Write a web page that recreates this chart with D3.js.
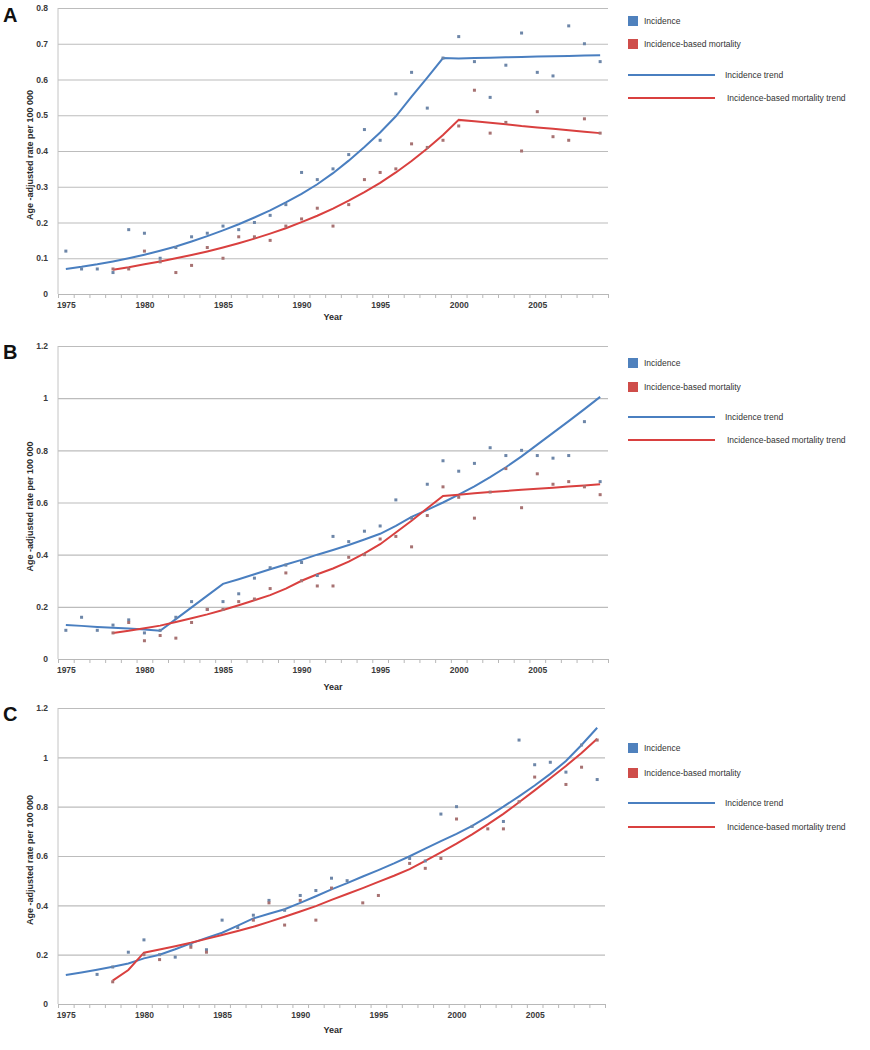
<!DOCTYPE html>
<html>
<head>
<meta charset="utf-8">
<script src="https://cdn.jsdelivr.net/npm/d3@7"></script>
<style>
  body { margin: 0; background: #fff; }
  svg { display: block; }
  text { font-family: "Liberation Sans", Arial, sans-serif; }
</style>
</head>
<body>
<svg id="chart" width="870" height="1050"></svg>
<script>
// ---------- DATA ----------
const years = [1975,1976,1977,1978,1979,1980,1981,1982,1983,1984,1985,1986,1987,1988,1989,1990,1991,1992,1993,1994,1995,1996,1997,1998,1999,2000,2001,2002,2003,2004,2005,2006,2007,2008,2009];
const xTickLabels = [1975,1980,1985,1990,1995,2000,2005];
const yTicksA = [0,0.1,0.2,0.3,0.4,0.5,0.6,0.7,0.8];
const yTicksBC = [0,0.2,0.4,0.6,0.8,1,1.2];
const legendLabels = ["Incidence","Incidence-based mortality","Incidence trend","Incidence-based mortality trend"];

// Panel A
const incidenceA = [0.12,0.07,0.07,0.06,0.18,0.17,0.10,0.13,0.16,0.17,0.19,0.18,0.20,0.22,0.25,0.34,0.32,0.35,0.39,0.46,0.43,0.56,0.62,0.52,0.66,0.72,0.65,0.55,0.64,0.73,0.62,0.61,0.75,0.70,0.65];
const mortalityA = [null,null,null,0.07,0.07,0.12,0.09,0.06,0.08,0.13,0.10,0.16,0.16,0.15,0.19,0.21,0.24,0.19,0.25,0.32,0.34,0.35,0.42,0.41,0.43,0.47,0.57,0.45,0.48,0.40,0.51,0.44,0.43,0.49,0.45];
const incidenceTrendA = [0.070,0.076,0.083,0.091,0.100,0.110,0.121,0.133,0.147,0.162,0.178,0.195,0.214,0.234,0.256,0.280,0.307,0.338,0.373,0.411,0.452,0.497,0.552,0.605,0.660,0.659,0.660,0.661,0.662,0.663,0.664,0.665,0.666,0.667,0.668];
const mortalityTrendA = [null,null,null,0.068,0.075,0.083,0.091,0.100,0.109,0.119,0.130,0.142,0.155,0.169,0.184,0.201,0.219,0.239,0.261,0.285,0.311,0.340,0.372,0.407,0.445,0.487,0.483,0.479,0.475,0.470,0.466,0.462,0.458,0.454,0.450];

// Panel B
const incidenceB = [0.11,0.16,0.11,0.13,0.15,0.10,0.11,0.16,0.22,0.19,0.22,0.25,0.31,0.35,0.36,0.37,0.32,0.47,0.45,0.49,0.51,0.61,0.54,0.67,0.76,0.72,0.75,0.81,0.78,0.80,0.78,0.77,0.78,0.91,0.68];
const mortalityB = [null,null,null,0.10,0.14,0.07,0.09,0.08,0.14,0.19,0.19,0.22,0.23,0.27,0.33,0.30,0.28,0.28,0.39,0.40,0.46,0.47,0.43,0.55,0.66,0.62,0.54,0.64,0.73,0.58,0.71,0.67,0.68,0.66,0.63];
const incidenceTrendB = [0.130,0.127,0.123,0.120,0.117,0.113,0.108,0.153,0.198,0.243,0.288,0.306,0.325,0.344,0.362,0.380,0.400,0.418,0.437,0.458,0.480,0.510,0.545,0.572,0.600,0.630,0.662,0.697,0.735,0.777,0.822,0.867,0.912,0.958,1.005];
const mortalityTrendB = [null,null,null,0.100,0.108,0.118,0.128,0.142,0.156,0.171,0.188,0.206,0.225,0.245,0.270,0.300,0.325,0.347,0.373,0.405,0.440,0.485,0.530,0.578,0.625,0.630,0.635,0.640,0.644,0.649,0.653,0.657,0.661,0.665,0.670];

// Panel C
const incidenceC = [null,null,0.12,0.15,0.21,0.26,0.20,0.19,0.24,0.22,0.34,0.31,0.36,0.42,0.38,0.44,0.46,0.51,0.50,null,null,null,0.59,0.58,0.77,0.80,0.72,null,0.74,1.07,0.97,0.98,0.94,1.05,0.91];
const mortalityC = [null,null,null,0.09,null,0.20,0.18,null,0.23,0.21,null,null,0.34,0.41,0.32,0.42,0.34,0.47,null,0.41,0.44,null,0.57,0.55,0.59,0.75,null,0.71,0.71,0.82,0.92,null,0.89,0.96,1.07];
const incidenceTrendC = [0.118,0.128,0.139,0.151,0.164,0.185,0.200,0.222,0.246,0.268,0.289,0.318,0.347,0.366,0.384,0.410,0.437,0.465,0.490,0.517,0.543,0.570,0.599,0.630,0.660,0.690,0.722,0.760,0.800,0.842,0.886,0.933,0.985,1.050,1.120];
const mortalityTrendC = [null,null,null,0.095,0.138,0.208,0.221,0.234,0.248,0.264,0.280,0.296,0.313,0.333,0.354,0.375,0.397,0.422,0.446,0.470,0.495,0.520,0.547,0.580,0.615,0.650,0.688,0.728,0.771,0.818,0.866,0.915,0.965,1.018,1.075];

// ---------- LAYOUT ----------
const panels = [
  { letter:"A", top:8,   bottom:294,  left:58, right:608, yMax:0.8, ticks:yTicksA,
    inc:incidenceA, mort:mortalityA, incT:incidenceTrendA, mortT:mortalityTrendA,
    legY:[21,44,75,98], yearY:320, labY:22 },
  { letter:"B", top:346, bottom:659,  left:58, right:608, yMax:1.2, ticks:yTicksBC,
    inc:incidenceB, mort:mortalityB, incT:incidenceTrendB, mortT:mortalityTrendB,
    legY:[363,387,417,440], yearY:690, labY:359 },
  { letter:"C", top:708, bottom:1004, left:58, right:605, yMax:1.2, ticks:yTicksBC,
    inc:incidenceC, mort:mortalityC, incT:incidenceTrendC, mortT:mortalityTrendC,
    legY:[748,773,803,827], yearY:1033, labY:721 }
];

const BLUE = "#4a7fc0", RED = "#d9403f";
const SQ_BLUE = "#4f81bd", SQ_RED = "#cf4d4a";
const PT_BLUE = "#6d86a8", PT_RED = "#a77272";

const svg = d3.select("#chart");

panels.forEach(p => {
  const g = svg.append("g");
  const x = d3.scaleLinear().domain([years[0] - 0.5, years[years.length-1] + 0.5]).range([p.left, p.right]);
  const y = d3.scaleLinear().domain([0, p.yMax]).range([p.bottom, p.top]);

  // gridlines
  g.append("g")
    .attr("transform", `translate(${p.left},0)`)
    .call(d3.axisLeft(y).tickValues(p.ticks.filter(t => t > 0)).tickSize(-(p.right - p.left)).tickFormat(""))
    .call(a => a.select(".domain").remove())
    .call(a => a.selectAll("line").attr("stroke", "#bcbcbc").attr("stroke-width", 1.1));

  // y tick labels
  g.append("g")
    .attr("transform", `translate(${p.left},0)`)
    .call(d3.axisLeft(y).tickValues(p.ticks).tickSize(0).tickPadding(10).tickFormat(d3.format("~g")))
    .call(a => a.select(".domain").remove())
    .call(a => a.selectAll("text").attr("font-size", "8.5px").attr("font-weight", "bold").attr("fill", "#3a3a3a")
      .attr("font-family", "'Liberation Sans', Arial, sans-serif"));

  // left axis line
  g.append("line").attr("x1", p.left).attr("x2", p.left).attr("y1", p.top).attr("y2", p.bottom)
    .attr("stroke", "#c4c4c4").attr("stroke-width", 1);

  // bottom axis with category-boundary ticks
  const bounds = years.map(d => d - 0.5).concat([years[years.length-1] + 0.5]);
  g.append("g")
    .attr("transform", `translate(0,${p.bottom})`)
    .call(d3.axisBottom(x).tickValues(bounds).tickSize(4).tickFormat(""))
    .call(a => a.select(".domain").attr("stroke", "#b8b8b8"))
    .call(a => a.selectAll("line").attr("stroke", "#b8b8b8"));

  g.append("g")
    .attr("transform", `translate(0,${p.bottom})`)
    .call(d3.axisBottom(x).tickValues(xTickLabels).tickSize(0).tickPadding(8).tickFormat(d3.format("d")))
    .call(a => a.select(".domain").remove())
    .call(a => a.selectAll("text").attr("font-size", "8.5px").attr("font-weight", "bold").attr("fill", "#3a3a3a")
      .attr("font-family", "'Liberation Sans', Arial, sans-serif"));

  // axis titles
  g.append("text").attr("x", 333).attr("y", p.yearY).attr("text-anchor", "middle")
    .attr("font-size", "9px").attr("font-weight", "bold").attr("fill", "#2a2a2a").text("Year");
  const midY = (p.top + p.bottom) / 2 + 4;
  g.append("text").attr("transform", `translate(33,${midY}) rotate(-90)`).attr("text-anchor", "middle")
    .attr("font-size", "9px").attr("font-weight", "bold").attr("fill", "#2a2a2a").text("Age -adjusted rate per 100 000");

  // panel letter
  g.append("text").attr("x", 3).attr("y", p.labY).attr("font-size", "20px").attr("font-weight", "bold")
    .attr("fill", "#111").text(p.letter);

  // trend lines
  const line = arr => d3.line()
    .defined((d, i) => arr[i] !== null)
    .x((d, i) => x(years[i]))
    .y((d, i) => y(arr[i]))(arr);
  g.append("path").attr("d", line(p.incT)).attr("fill", "none").attr("stroke", BLUE).attr("stroke-width", 2);
  g.append("path").attr("d", line(p.mortT)).attr("fill", "none").attr("stroke", RED).attr("stroke-width", 2);

  // points
  const pts = (arr, color) => g.append("g").selectAll("rect")
    .data(arr.map((v, i) => ({ yr: years[i], v })).filter(d => d.v !== null))
    .join("rect")
    .attr("x", d => x(d.yr) - 1.5).attr("y", d => y(d.v) - 1.5)
    .attr("width", 3).attr("height", 3).attr("fill", color);
  pts(p.inc, PT_BLUE);
  pts(p.mort, PT_RED);

  // legend
  const lg = g.append("g");
  [SQ_BLUE, SQ_RED].forEach((c, i) => {
    lg.append("rect").attr("x", 628).attr("y", p.legY[i] - 5).attr("width", 10).attr("height", 10).attr("fill", c);
    lg.append("text").attr("x", 644).attr("y", p.legY[i] + 3).attr("font-size", "8.5px").attr("fill", "#333").text(legendLabels[i]);
  });
  [BLUE, RED].forEach((c, i) => {
    const yy = p.legY[i + 2];
    lg.append("line").attr("x1", 628).attr("x2", 715).attr("y1", yy).attr("y2", yy).attr("stroke", c).attr("stroke-width", 2);
    lg.append("text").attr("x", i === 0 ? 725 : 727).attr("y", yy + 3).attr("font-size", "8.5px").attr("fill", "#333").text(legendLabels[i + 2]);
  });
});
</script>
</body>
</html>
